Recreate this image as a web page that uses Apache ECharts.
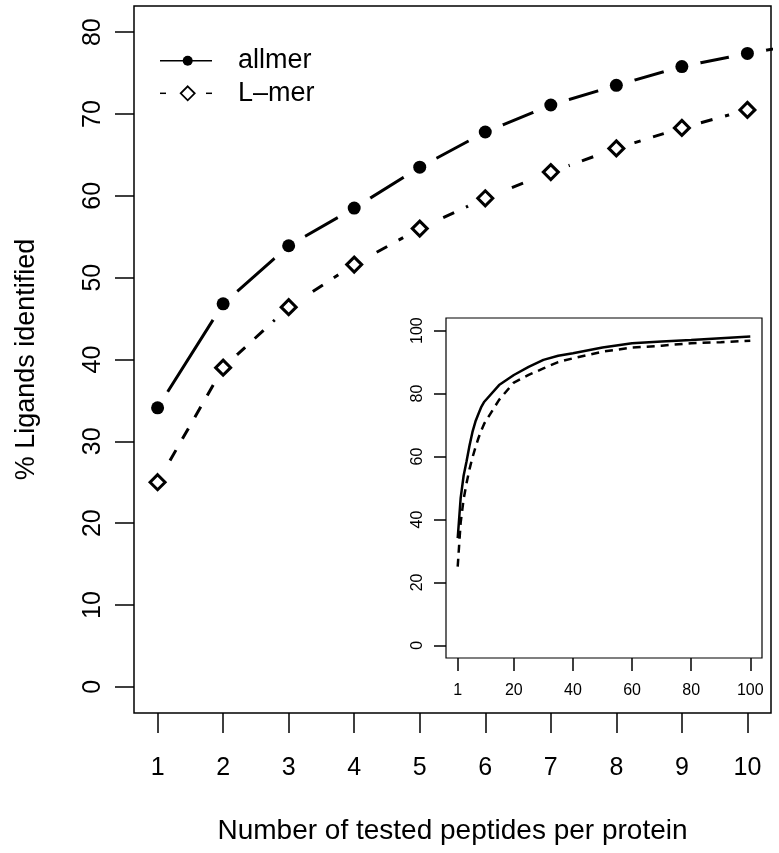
<!DOCTYPE html>
<html>
<head>
<meta charset="utf-8">
<script src="https://cdn.jsdelivr.net/npm/echarts@6/dist/echarts.min.js"></script>
<style>
html,body{margin:0;padding:0;background:#fff;}
#chart{width:779px;height:853px;}
</style>
</head>
<body>
<div id="chart"></div>
<script>
// ---- data ----
const peptides = [1, 2, 3, 4, 5, 6, 7, 8, 9, 10, 11];
const allmer = [34.1, 46.8, 53.9, 58.5, 63.5, 67.8, 71.1, 73.5, 75.8, 77.4, 78.8];
const lmer = [25.0, 39.0, 46.4, 51.6, 56.0, 59.7, 62.9, 65.8, 68.3, 70.5, 72.2];
const xTicks = [1, 2, 3, 4, 5, 6, 7, 8, 9, 10];
const yTicks = [0, 10, 20, 30, 40, 50, 60, 70, 80];

const insetX = [1, 2, 3, 4, 5, 6, 7, 8, 9, 10, 15, 20, 25, 30, 35, 40, 50, 60, 70, 80, 90, 100];
const insetAllmer = [34.1, 46.8, 53.9, 58.5, 63.5, 67.8, 71.1, 73.5, 75.8, 77.4, 82.7, 85.9, 88.5, 90.7, 92.0, 92.8, 94.6, 96.0, 96.5, 97.0, 97.6, 98.1];
const insetLmer = [25.0, 39.0, 46.4, 51.6, 56.0, 59.7, 62.9, 65.8, 68.3, 70.5, 78.0, 83.5, 85.9, 88.0, 90.0, 91.2, 93.3, 94.6, 95.2, 96.0, 96.3, 96.8];
const insetXTicks = [1, 20, 40, 60, 80, 100];
const insetYTicks = [0, 20, 40, 60, 80, 100];

const seriesNames = ['allmer', 'L\u2013mer'];
const xTitle = 'Number of tested peptides per protein';
const yTitle = '% Ligands identified';

// ---- helpers ----
const FONT = "'Liberation Sans', Helvetica, Arial, sans-serif";
const pairs = (xs, ys) => xs.map((x, i) => [x, ys[i]]);
function rExt(lo, hi) { const d = (hi - lo) * 0.04; return [lo - d, hi + d]; }
const mx = rExt(1, 10), my = rExt(0, 80), ix = rExt(1, 100), iy = rExt(0, 100);

function axisCommon(ticks, font, len, margin, rotate) {
  return {
    axisLine: { show: false, onZero: false },
    splitLine: { show: false },
    axisTick: { show: true, inside: false, length: len, customValues: ticks,
      lineStyle: { color: '#000', width: 1.5 } },
    axisLabel: { show: true, customValues: ticks, color: '#000', fontFamily: FONT,
      fontSize: font, margin: margin, rotate: rotate || 0 }
  };
}

const chart = echarts.init(document.getElementById('chart'), null, { renderer: 'canvas' });

const mainData1 = pairs(peptides, allmer);
const mainData2 = pairs(peptides, lmer);
const HALO = 38;

const option = {
  animation: false,
  backgroundColor: '#fff',
  grid: [
    { left: 134, top: 6, right: 8, bottom: 140, show: true, borderColor: '#000', borderWidth: 1.5, backgroundColor: 'transparent' },
    { left: 446, top: 318, right: 17, bottom: 195, show: true, borderColor: '#000', borderWidth: 1.2, backgroundColor: '#fff', z: 5 }
  ],
  xAxis: [
    Object.assign({ type: 'value', gridIndex: 0, min: mx[0], max: mx[1],
      name: xTitle, nameLocation: 'middle', nameGap: 104,
      nameTextStyle: { fontFamily: FONT, fontSize: 28, color: '#000' } },
      axisCommon(xTicks, 25, 20, 43)),
    Object.assign({ type: 'value', gridIndex: 1, min: ix[0], max: ix[1], z: 6 },
      axisCommon(insetXTicks, 16, 13, 25))
  ],
  yAxis: [
    Object.assign({ type: 'value', gridIndex: 0, min: my[0], max: my[1],
      name: yTitle, nameLocation: 'middle', nameGap: 94, nameRotate: 90,
      nameTextStyle: { fontFamily: FONT, fontSize: 27, color: '#000' } },
      axisCommon(yTicks, 25, 19, 28, 90)),
    Object.assign({ type: 'value', gridIndex: 1, min: iy[0], max: iy[1], z: 6 },
      axisCommon(insetYTicks, 16, 12, 20, 90))
  ],
  series: [
    // allmer main: line, halo gaps, symbols
    { type: 'line', xAxisIndex: 0, yAxisIndex: 0, data: mainData1, symbol: 'none', clip: true, silent: true, z: 2,
      lineStyle: { color: '#000', width: 3, type: 'solid' } },
    { type: 'line', xAxisIndex: 0, yAxisIndex: 0, data: mainData1, symbol: 'circle', symbolSize: HALO, clip: true, silent: true, z: 3,
      lineStyle: { opacity: 0, width: 0 }, itemStyle: { color: '#fff', borderWidth: 0 } },
    { type: 'line', name: seriesNames[0], xAxisIndex: 0, yAxisIndex: 0, data: mainData1, symbol: 'circle', symbolSize: 13, clip: true, silent: true, z: 4,
      lineStyle: { opacity: 0, width: 0 }, itemStyle: { color: '#000', borderWidth: 0 } },
    // L-mer main
    { type: 'line', xAxisIndex: 0, yAxisIndex: 0, data: mainData2, symbol: 'none', clip: true, silent: true, z: 2,
      lineStyle: { color: '#000', width: 3, type: [12, 13] } },
    { type: 'line', xAxisIndex: 0, yAxisIndex: 0, data: mainData2, symbol: 'circle', symbolSize: HALO, clip: true, silent: true, z: 3,
      lineStyle: { opacity: 0, width: 0 }, itemStyle: { color: '#fff', borderWidth: 0 } },
    { type: 'line', name: seriesNames[1], xAxisIndex: 0, yAxisIndex: 0, data: mainData2, symbol: 'diamond', symbolSize: 15, clip: true, silent: true, z: 4,
      lineStyle: { opacity: 0, width: 0 }, itemStyle: { color: '#fff', borderColor: '#000', borderWidth: 3 } },
    // inset
    { type: 'line', xAxisIndex: 1, yAxisIndex: 1, data: pairs(insetX, insetAllmer), symbol: 'none', clip: true, silent: true, z: 7,
      lineStyle: { color: '#000', width: 2.5, type: 'solid' } },
    { type: 'line', xAxisIndex: 1, yAxisIndex: 1, data: pairs(insetX, insetLmer), symbol: 'none', clip: true, silent: true, z: 7,
      lineStyle: { color: '#000', width: 2.5, type: [8, 6] } }
  ],
  graphic: [
    // legend
    { type: 'line', shape: { x1: 160, y1: 60.7, x2: 212, y2: 60.7 }, style: { stroke: '#000', lineWidth: 1.5 }, z: 10 },
    { type: 'circle', shape: { cx: 187.7, cy: 60.7, r: 5 }, style: { fill: '#000' }, z: 10 },
    { type: 'text', x: 238, y: 60.7, style: { text: seriesNames[0], font: "27px " + FONT, fill: '#000', verticalAlign: 'middle' }, z: 10 },
    { type: 'line', shape: { x1: 160, y1: 93.3, x2: 166, y2: 93.3 }, style: { stroke: '#000', lineWidth: 1.5 }, z: 10 },
    { type: 'line', shape: { x1: 206, y1: 93.3, x2: 212, y2: 93.3 }, style: { stroke: '#000', lineWidth: 1.5 }, z: 10 },
    { type: 'polygon', shape: { points: [[187.7, 86.3], [194.7, 93.3], [187.7, 100.3], [180.7, 93.3]] }, style: { fill: '#fff', stroke: '#000', lineWidth: 1.8 }, z: 10 },
    { type: 'text', x: 238, y: 93.3, style: { text: seriesNames[1], font: "27px " + FONT, fill: '#000', verticalAlign: 'middle' }, z: 10 }
  ]
};
chart.setOption(option);
</script>
</body>
</html>
